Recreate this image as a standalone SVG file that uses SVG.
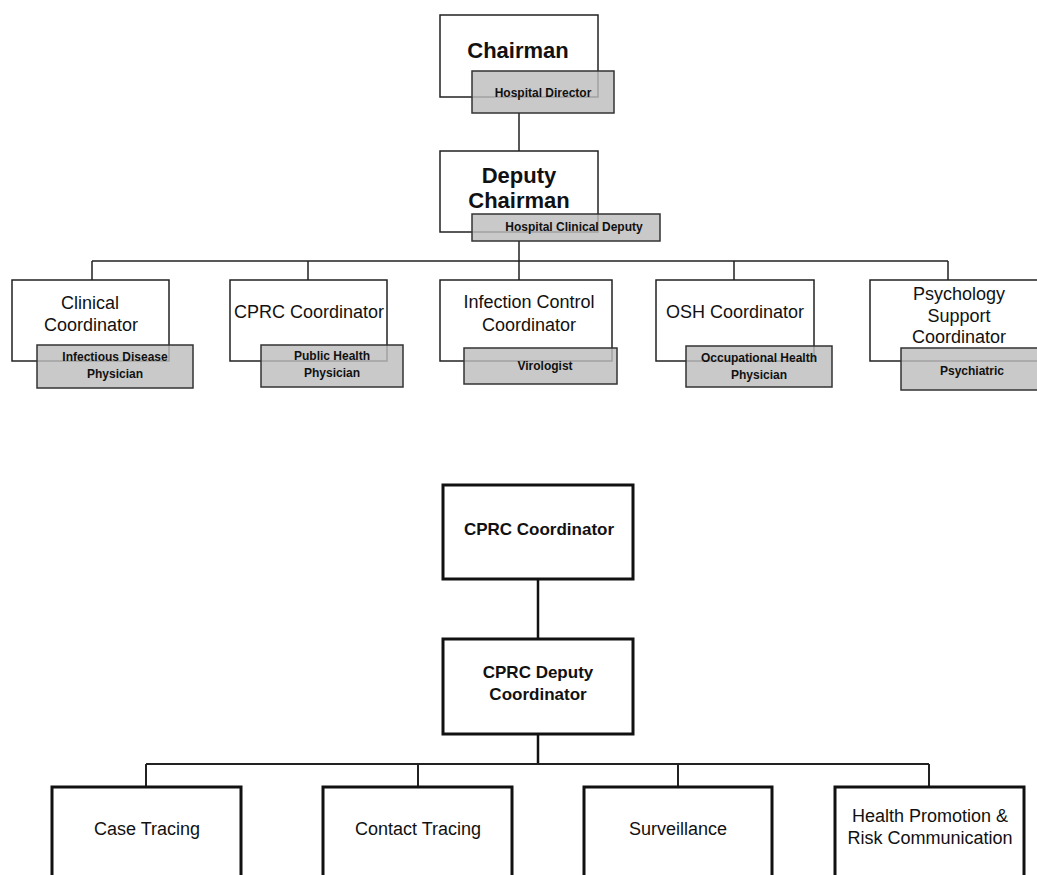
<svg xmlns="http://www.w3.org/2000/svg" width="1037" height="875" viewBox="0 0 1037 875">
<style>
.bx{fill:#fff;stroke:#222;stroke-width:1.5}
.gr{fill:#bdbdbd;fill-opacity:0.82;stroke:#333;stroke-width:1.5}
.bb{fill:#fff;stroke:#111;stroke-width:3}
.ln{fill:none;stroke:#222;stroke-width:1.5}
.lb{fill:none;stroke:#111;stroke-width:2.5}
.t{font-family:"Liberation Sans",Arial,sans-serif;fill:#111;text-anchor:middle}
.n{font-size:18px}
.b{font-weight:bold}
.s{font-size:12px;font-weight:bold}
.h{font-size:22px;font-weight:bold}
.m{font-size:17px;font-weight:bold}
</style>
<rect width="1037" height="875" fill="#fff"/>
<g id="connectors">
<path class="ln" d="M519 113V151M519 241V261M92 261H948M92 261V280M308 261V280M519 261V280M734 261V280M948 261V280"/>
<path class="lb" d="M538 579V639M538 734V764"/>
<path class="ln" d="M146 764H929M146 764V787M418 764V787M678 764V787M929 764V787" style="stroke-width:2"/>
</g>
<g id="chairman">
<rect class="bx" x="440" y="15" width="158" height="82"/>
<text class="t h" x="518" y="58">Chairman</text>
<rect class="gr" x="472" y="71" width="142" height="42"/>
<text class="t s" x="543" y="97">Hospital Director</text>
</g>
<g id="deputy">
<rect class="bx" x="440" y="151" width="158" height="81"/>
<text class="t h" x="519" y="183">Deputy</text>
<text class="t h" x="519" y="208">Chairman</text>
<rect class="gr" x="472" y="214" width="188" height="27"/>
<text class="t s" x="574" y="231">Hospital Clinical Deputy</text>
</g>
<g id="clinical">
<rect class="bx" x="12" y="280" width="157" height="81"/>
<text class="t n" x="90" y="309">Clinical</text>
<text class="t n" x="91" y="331">Coordinator</text>
<rect class="gr" x="37" y="345" width="156" height="43"/>
<text class="t s" x="115" y="361">Infectious Disease</text>
<text class="t s" x="115" y="378">Physician</text>
</g>
<g id="cprc">
<rect class="bx" x="230" y="280" width="157" height="81"/>
<text class="t n" x="309" y="318">CPRC Coordinator</text>
<rect class="gr" x="261" y="345" width="142" height="42"/>
<text class="t s" x="332" y="360">Public Health</text>
<text class="t s" x="332" y="377">Physician</text>
</g>
<g id="infection">
<rect class="bx" x="440" y="280" width="172" height="81"/>
<text class="t n" x="529" y="308">Infection Control</text>
<text class="t n" x="529" y="331">Coordinator</text>
<rect class="gr" x="464" y="348" width="153" height="36"/>
<text class="t s" x="545" y="370">Virologist</text>
</g>
<g id="osh">
<rect class="bx" x="656" y="280" width="158" height="81"/>
<text class="t n" x="735" y="318">OSH Coordinator</text>
<rect class="gr" x="686" y="346" width="146" height="41"/>
<text class="t s" x="759" y="362">Occupational Health</text>
<text class="t s" x="759" y="379">Physician</text>
</g>
<g id="psychology">
<rect class="bx" x="870" y="280" width="180" height="81"/>
<text class="t n" x="959" y="300">Psychology</text>
<text class="t n" x="959" y="322">Support</text>
<text class="t n" x="959" y="343">Coordinator</text>
<rect class="gr" x="901" y="348" width="150" height="42"/>
<text class="t s" x="972" y="375">Psychiatric</text>
</g>
<g id="cprc-coordinator">
<rect class="bb" x="443" y="485" width="190" height="94"/>
<text class="t m" x="539" y="535">CPRC Coordinator</text>
</g>
<g id="cprc-deputy">
<rect class="bb" x="443" y="639" width="190" height="95"/>
<text class="t m" x="538" y="678">CPRC Deputy</text>
<text class="t m" x="538" y="700">Coordinator</text>
</g>
<g id="case-tracing">
<rect class="bb" x="52" y="787" width="189" height="100"/>
<text class="t n" x="147" y="835">Case Tracing</text>
</g>
<g id="contact-tracing">
<rect class="bb" x="323" y="787" width="189" height="100"/>
<text class="t n" x="418" y="835">Contact Tracing</text>
</g>
<g id="surveillance">
<rect class="bb" x="584" y="787" width="188" height="100"/>
<text class="t n" x="678" y="835">Surveillance</text>
</g>
<g id="health-promotion">
<rect class="bb" x="835" y="787" width="189" height="100"/>
<text class="t n" x="930" y="822">Health Promotion &amp;</text>
<text class="t n" x="930" y="844">Risk Communication</text>
</g>
</svg>
